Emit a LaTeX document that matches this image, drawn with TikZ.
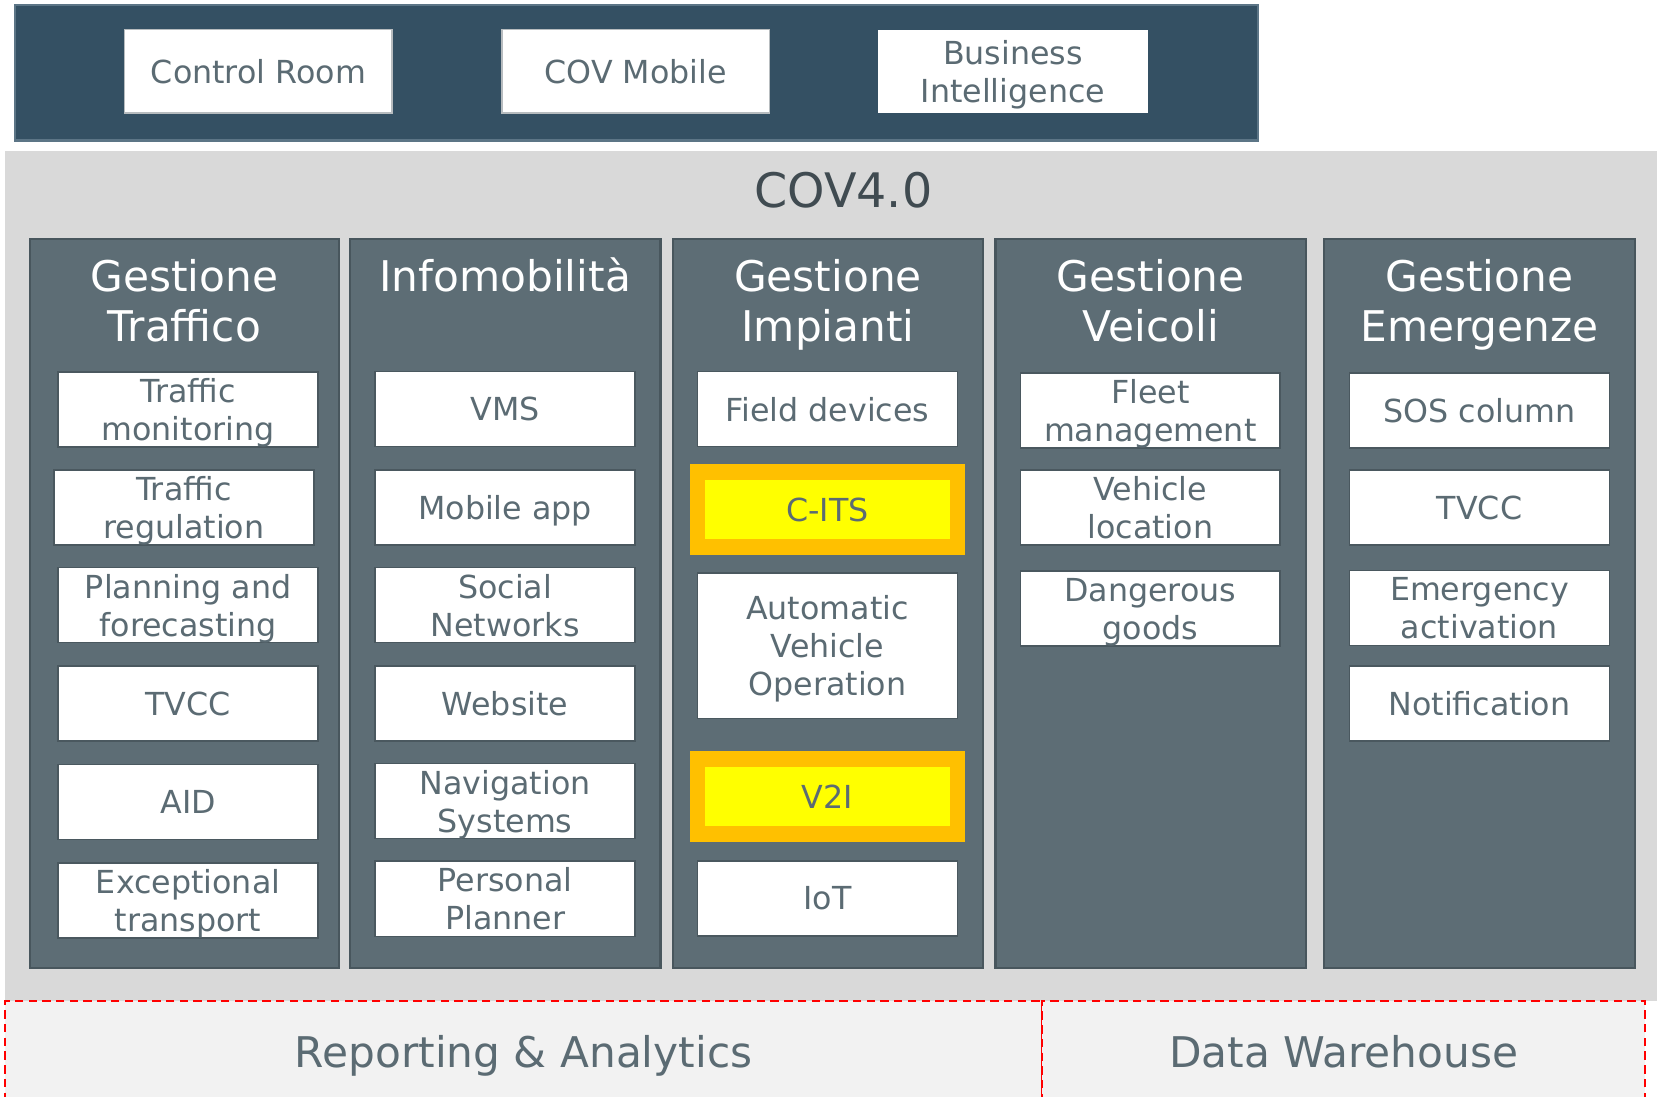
\documentclass[tikz,border=0pt]{standalone}
\usepackage{fontspec}
\setmainfont{DejaVu Sans}
\definecolor{topblue}{RGB}{52,80,99}
\definecolor{topline}{RGB}{92,117,134}
\definecolor{bggray}{RGB}{217,217,217}
\definecolor{colfill}{RGB}{93,109,117}
\definecolor{colline}{RGB}{72,86,93}
\definecolor{itemtext}{RGB}{91,107,115}
\definecolor{boxline}{RGB}{74,88,95}
\definecolor{lightbg}{RGB}{242,242,242}
\definecolor{hlorange}{RGB}{255,192,0}
\definecolor{hlyellow}{RGB}{255,255,0}
\tikzset{
  topitem/.style={fill=white, text=itemtext, minimum width=253pt, minimum height=79pt, inner sep=0pt, text depth=0pt, align=center, font=\fontsize{30}{36}\selectfont},
  item/.style={draw=boxline, line width=1.5pt, fill=white, text=itemtext, minimum width=246pt, minimum height=71pt, inner sep=0pt, text depth=0pt, align=center, font=\fontsize{30}{36}\selectfont},
  highlight/.style={item, draw=hlorange, fill=hlyellow, line width=15pt},
  column/.style={draw=colline, fill=colfill, line width=2pt},
  header/.style={anchor=north, text=white, inner sep=0pt, align=center, font=\fontsize{40}{48}\selectfont},
  bottombox/.style={draw=red, dash pattern=on 8pt off 5pt, line width=2pt, fill=lightbg, text=itemtext, minimum height=96pt, inner sep=0pt, text depth=0pt, font=\fontsize{40}{48}\selectfont}
}
\begin{document}
\begin{tikzpicture}[x=1pt,y=-1pt]
\useasboundingbox (0,0) rectangle (1568,1038);
\clip (0,0) rectangle (1568,1038);
\fill[white] (0,0) rectangle (1568,1038);
% top bar
\draw[draw=topline, fill=topblue, line width=2pt] (14,5) rectangle (1190,133);
\node[topitem, draw=boxline!40, line width=1.5pt] (control) at (244.5,67.5) {Control Room};
\node[topitem, draw=boxline!40, line width=1.5pt] (covmob) at (601.5,67.5) {COV Mobile};
\node[topitem, minimum width=255pt] (bi) at (958.5,67.5) {Business\\Intelligence};
% COV4.0
\fill[bggray] (5,143) rectangle (1568,947);
\node[text=itemtext!70!black, font=\fontsize{45}{54}\selectfont] (cov) at (798,180) {COV4.0};
\draw[column] (28,226) rectangle (321,916);
\draw[column] (331,226) rectangle (625,916);
\draw[column] (637,226) rectangle (930,916);
\draw[column] (942,226) rectangle (1236,916);
\draw[column] (1253,226) rectangle (1547,916);
\node[header] (traffico) at (174.5,245) {Gestione\\Traffico};
\node[header] (infomob) at (478,243.5) {Infomobilità};
\node[header] (impianti) at (783.5,245) {Gestione\\Impianti};
\node[header] (veicoli) at (1089,245) {Gestione\\Veicoli};
\node[header] (emergenze) at (1400,245) {Gestione\\Emergenze};
% Gestione Traffico
\node[item] (tmon) at (178,387.5) {Traffic\\monitoring};
\node[item] (treg) at (174,480) {Traffic\\regulation};
\node[item] (plan) at (178,572.5) {Planning and\\forecasting};
\node[item] (tvcca) at (178,665.5) {TVCC};
\node[item] (aid) at (178,759) {AID};
\node[item] (exct) at (178,852) {Exceptional\\transport};
% Infomobilita
\node[item] (vms) at (478,387) {VMS};
\node[item] (mobapp) at (478,480) {Mobile app};
\node[item] (social) at (478,572.5) {Social\\Networks};
\node[item] (website) at (478,665.5) {Website};
\node[item] (navsys) at (478,758) {Navigation\\Systems};
\node[item] (planner) at (478,850.5) {Personal\\Planner};
% Gestione Impianti
\node[item] (field) at (783,387) {Field devices};
\node[highlight] (cits) at (783,482) {C-ITS};
\node[item, minimum height=138pt] (avo) at (783,611) {Automatic\\Vehicle\\Operation};
\node[highlight] (vtoi) at (783,754) {V2I};
\node[item] (iot) at (783,850) {IoT};
% Gestione Veicoli
\node[item] (fleet) at (1088.5,388.5) {Fleet\\management};
\node[item] (vloc) at (1088.5,480) {Vehicle\\location};
\node[item] (dgoods) at (1088.5,576) {Dangerous\\goods};
% Gestione Emergenze
\node[item] (sos) at (1400,388.5) {SOS column};
\node[item] (tvccb) at (1400,480) {TVCC};
\node[item] (emerg) at (1400,575.5) {Emergency\\activation};
\node[item] (notif) at (1400,665.5) {Notification};
% bottom
\node[bottombox, minimum width=981pt] (report) at (495.5,995) {Reporting \& Analytics};
\node[bottombox, minimum width=571pt] (dwh) at (1271.5,995) {Data Warehouse};
\end{tikzpicture}
\end{document}
